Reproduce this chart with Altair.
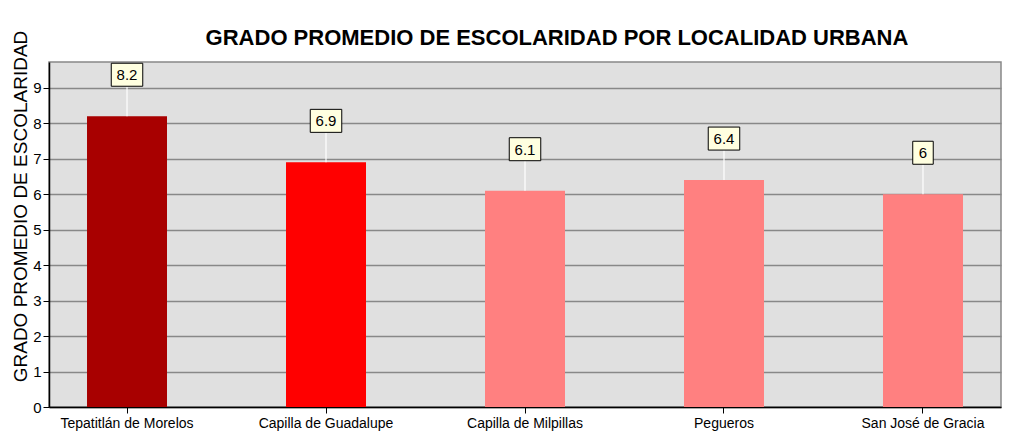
import altair as alt
import pandas as pd

localidades = ["Tepatitlán de Morelos", "Capilla de Guadalupe", "Capilla de Milpillas", "Pegueros", "San José de Gracia"]
valores = [8.2, 6.9, 6.1, 6.4, 6.0]
etiquetas = ["8.2", "6.9", "6.1", "6.4", "6"]
colores = ["#A80000", "#FF0000", "#FF8080", "#FF8080", "#FF8080"]
ticks_y = [0, 1, 2, 3, 4, 5, 6, 7, 8, 9]

df = pd.DataFrame({"loc": localidades, "val": valores, "lab": etiquetas, "col": colores})

FONT = "Liberation Sans"

x = alt.X("loc:N", sort=localidades, title=None,
          scale=alt.Scale(paddingInner=0.598, paddingOuter=0.191),
          axis=alt.Axis(labelAngle=0, labelFontSize=14, labelFont=FONT, labelColor="black",
                        tickColor="black", tickSize=6, domainColor="black", domainWidth=1.5,
                        labelPadding=3))
y = alt.Y("val:Q", title="GRADO PROMEDIO DE ESCOLARIDAD",
          scale=alt.Scale(domain=[0, 9.73], nice=False),
          axis=alt.Axis(values=ticks_y, labelFontSize=15, labelFont=FONT, labelColor="black",
                        tickColor="black", tickSize=6, domainColor="black", domainWidth=1.5,
                        gridColor="#888888", gridWidth=1.6, labelPadding=2, labelOverlap=False,
                        titleFont=FONT, titleFontSize=19, titleFontWeight="normal", titleColor="black",
                        titleAngle=-90, titleX=-38, titleY=144, titleAlign="center", titleBaseline="top"))
y2 = alt.Y2("val:Q")

base = alt.Chart(df)

bars = base.mark_bar().encode(x=x, y=y, color=alt.Color("col:N", scale=None))

rule = base.mark_rule(color="white", strokeWidth=1.2, y2Offset=-30).encode(
    x=x, y=y, y2=y2)

box = base.transform_calculate(w="length(datum.lab)*5.5+15").mark_bar(
    fill="#FFFFE0", stroke="black", strokeWidth=1, yOffset=-30, y2Offset=-53
).encode(x=x, y=y, y2=y2, size=alt.Size("w:Q", scale=None))

txt = base.mark_text(font=FONT, fontSize=15, color="black", dy=-41, baseline="middle").encode(
    x=x, y=y, text="lab:N")

chart = alt.layer(bars, rule, box, txt).properties(
    width=952, height=345,
    title=alt.TitleParams("GRADO PROMEDIO DE ESCOLARIDAD POR LOCALIDAD URBANA",
                          font=FONT, fontSize=22, fontWeight="bold", color="black",
                          anchor="middle", dx=32, offset=-20),
    autosize=alt.AutoSizeParams(type="none"),
    padding={"left": 41, "top": 54, "right": 15, "bottom": 30},
).configure_view(fill="#E0E0E0", stroke="#888888", strokeWidth=1.5)

chart.save("out.html", embed_options={"renderer": "svg", "actions": False})
